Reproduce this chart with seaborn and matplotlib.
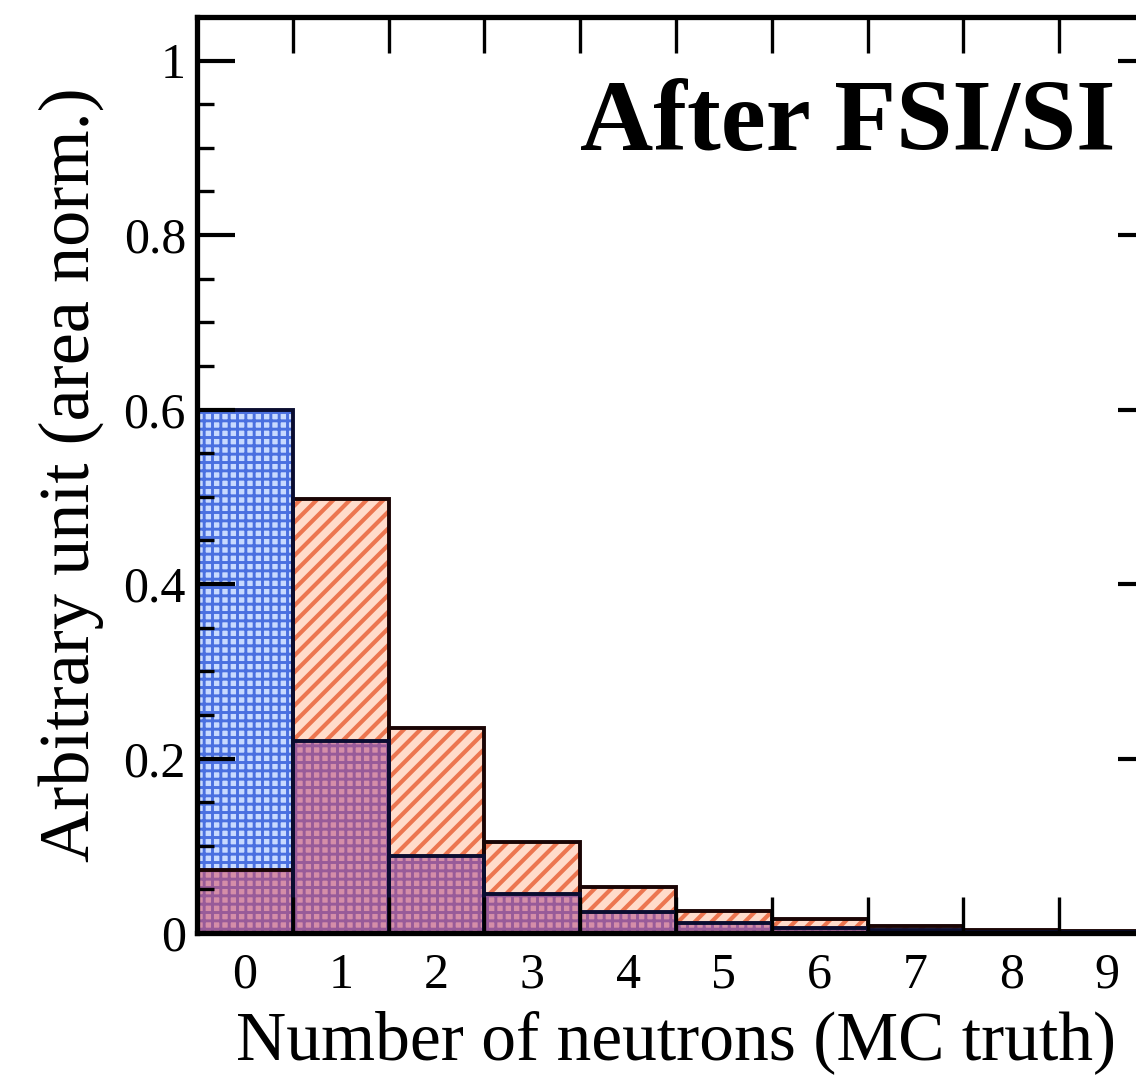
import numpy as np
import pandas as pd
import matplotlib
matplotlib.use("Agg")
import matplotlib.pyplot as plt
import seaborn as sns
from matplotlib.ticker import MultipleLocator, FixedLocator

# ---- data ----
n_neutrons = [0, 1, 2, 3, 4, 5, 6, 7, 8, 9]
blue_vals = [0.600, 0.220, 0.088, 0.045, 0.024, 0.012, 0.006, 0.003, 0.0015, 0.0008]
orange_vals = [0.072, 0.497, 0.235, 0.104, 0.053, 0.025, 0.016, 0.008, 0.004, 0.002]
xtick_labels = ["0", "1", "2", "3", "4", "5", "6", "7", "8", "9"]
ytick_values = [0, 0.2, 0.4, 0.6, 0.8, 1.0]
ytick_labels = ["0", "0.2", "0.4", "0.6", "0.8", "1"]
title_text = "After FSI/SI"
xlabel_text = "Number of neutrons (MC truth)"
ylabel_text = "Arbitrary unit (area norm.)"

sns.set_style("white")
plt.rcParams['font.family'] = ['Liberation Serif', 'DejaVu Serif']
for k in ['text.color', 'axes.labelcolor', 'xtick.color', 'ytick.color']:
    plt.rcParams[k] = 'black'

fig = plt.figure(figsize=(11.36, 10.84), dpi=100)
ax = fig.add_axes([197/1136, 151/1084, 958/1136, 916/1084])
ax.set_axisbelow(False)

df = pd.DataFrame({"n": n_neutrons, "blue": blue_vals, "orange": orange_vals})
df["overlap"] = np.minimum(df["blue"], df["orange"])

# orange (diagonal hatch)
plt.rcParams['hatch.linewidth'] = 3.0
sns.histplot(data=df, x="n", weights="orange", discrete=True, ax=ax,
             color="#ffdccb", edgecolor="#ec7650", linewidth=0, hatch="//",
             alpha=1.0, zorder=1.0)
# blue (grid hatch)
plt.rcParams['hatch.linewidth'] = 2.1
sns.histplot(data=df, x="n", weights="blue", discrete=True, ax=ax,
             color="#c8daff", edgecolor="#4a70e0", linewidth=0, hatch="++",
             alpha=1.0, zorder=1.1)
# red tint where both distributions overlap
sns.histplot(data=df, x="n", weights="overlap", discrete=True, ax=ax,
             color="#e04858", linewidth=0, alpha=0.52, zorder=1.2)
# outlines
sns.histplot(data=df, x="n", weights="orange", discrete=True, ax=ax,
             fill=False, color="#1a0505", linewidth=2.8, zorder=1.3)
sns.histplot(data=df, x="n", weights="blue", discrete=True, ax=ax,
             fill=False, color="#0a0d30", linewidth=2.8, zorder=1.3)

ax.set_xlim(-0.5, 9.5)
ax.set_ylim(0, 1.05)

ax.xaxis.set_major_locator(FixedLocator(n_neutrons))
ax.set_xticklabels(xtick_labels)
ax.xaxis.set_minor_locator(FixedLocator(np.arange(0.5, 9.5, 1.0)))
ax.yaxis.set_major_locator(FixedLocator(ytick_values))
ax.set_yticklabels(ytick_labels)
ax.yaxis.set_minor_locator(MultipleLocator(0.05))

ax.tick_params(axis='x', which='major', length=0, labelsize=36, pad=14,
               top=True, bottom=True)
ax.tick_params(axis='x', which='minor', length=26, width=2.4, direction='in',
               top=True, bottom=True)
ax.tick_params(axis='y', which='major', length=27, width=3.0, direction='in',
               left=True, right=True, labelsize=36, pad=8)
ax.tick_params(axis='y', which='minor', length=12, width=2.4, direction='in',
               left=True, right=True)

for s in ax.spines.values():
    s.set_linewidth(3.8)
    s.set_color("black")
    s.set_zorder(5)

ax.set_xlabel(xlabel_text, fontsize=50, labelpad=8)
ax.set_ylabel(ylabel_text, fontsize=52, labelpad=14)

fig.text(1115/1136, (1084 - 150)/1084, title_text, fontsize=73,
         fontweight='bold', ha='right', va='baseline')

fig.savefig("out.png", dpi=100)
